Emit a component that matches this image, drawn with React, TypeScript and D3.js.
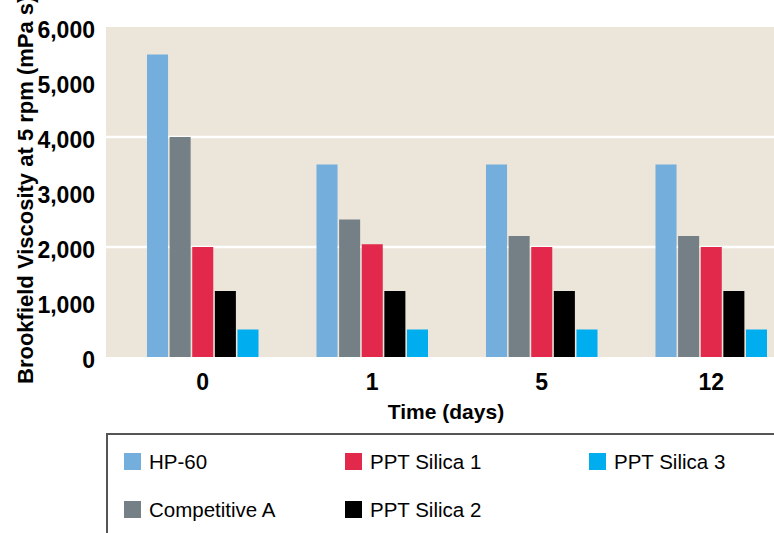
import React from "react";
import * as d3 from "d3";

const days = ["0", "1", "5", "12"];
const series = ["HP-60", "Competitive A", "PPT Silica 1", "PPT Silica 2", "PPT Silica 3"];
const colors = ["#74aedc", "#758086", "#e2294b", "#000000", "#00aeef"];
const values: number[][] = [
  [5500, 3500, 3500, 3500], // HP-60
  [4000, 2500, 2200, 2200], // Competitive A
  [2000, 2050, 2000, 2000], // PPT Silica 1
  [1200, 1200, 1200, 1200], // PPT Silica 2
  [500, 500, 500, 500], // PPT Silica 3
];
const yTicks = [0, 1000, 2000, 3000, 4000, 5000, 6000];
const gridTicks = [2000, 4000];
const legendOrder = [
  { s: 0, col: 0, row: 0 },
  { s: 1, col: 0, row: 1 },
  { s: 2, col: 1, row: 0 },
  { s: 3, col: 1, row: 1 },
  { s: 4, col: 2, row: 0 },
];

const W = 774;
const H = 533;
const FONT = "'Liberation Sans', Arial, Helvetica, sans-serif";

export default function App() {
  const plotLeft = 106;
  const plotTop = 27;
  const plotBottom = 357;
  const y = d3.scaleLinear().domain([0, 6000]).range([plotBottom, plotTop]);
  const x0 = d3.scaleBand<string>().domain(days).range([118, 118 + 4 * 169.5]).padding(0);
  const x1 = d3
    .scaleBand<string>()
    .domain(series)
    .range([-55.75, 55.75])
    .paddingInner(0.07)
    .paddingOuter(0);
  const fmt = d3.format(",");
  const legendCols = [124, 345, 589];
  const legendRows = [453, 501];

  return (
    <svg
      width={W}
      height={H}
      style={{ position: "absolute", left: 0, top: 0, background: "#ffffff" }}
      fontFamily={FONT}
    >
      <rect x={plotLeft} y={plotTop} width={W - plotLeft + 20} height={plotBottom - plotTop} fill="#ebe5da" />
      {gridTicks.map((t) => (
        <line key={t} x1={plotLeft} x2={W + 20} y1={y(t)} y2={y(t)} stroke="#ffffff" strokeWidth={2.5} />
      ))}
      {days.map((d, di) => (
        <g key={d} transform={`translate(${x0(d)! + x0.bandwidth() / 2},0)`}>
          {series.map((s, si) => (
            <rect
              key={s}
              x={x1(s)!}
              y={y(values[si][di])}
              width={x1.bandwidth()}
              height={plotBottom - y(values[si][di])}
              fill={colors[si]}
            />
          ))}
          <text y={390} textAnchor="middle" fontWeight="bold" fontSize={23} fill="#000">
            {d}
          </text>
        </g>
      ))}
      {yTicks.map((t) => (
        <text key={t} x={95} y={y(t) + 11} textAnchor="end" fontWeight="bold" fontSize={23} fill="#000">
          {fmt(t)}
        </text>
      ))}
      <text
        transform={`translate(33,384) rotate(-90)`}
        textAnchor="start"
        fontWeight="bold"
        fontSize={22}
        fill="#000"
      >
        Brookfield Viscosity at 5 rpm (mPa s)
      </text>
      <text x={446} y={419} textAnchor="middle" fontWeight="bold" fontSize={21} fill="#000">
        Time (days)
      </text>
      <rect x={107} y={434} width={W} height={H} fill="none" stroke="#555555" strokeWidth={2} />
      {legendOrder.map((l) => (
        <g key={l.s} transform={`translate(${legendCols[l.col]},${legendRows[l.row]})`}>
          <rect x={0} y={0} width={17} height={17} fill={colors[l.s]} />
          <text x={25} y={16} fontSize={20.5} fill="#000">
            {series[l.s]}
          </text>
        </g>
      ))}
    </svg>
  );
}
